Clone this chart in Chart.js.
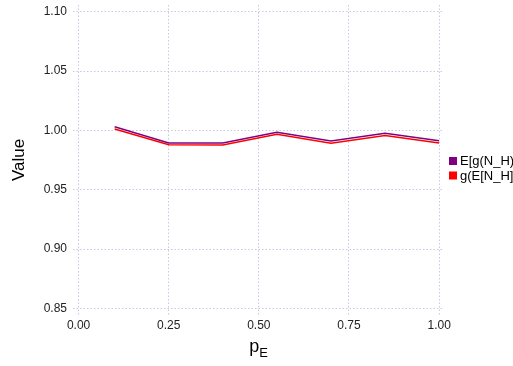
<!DOCTYPE html>
<html>
<head>
<meta charset="utf-8">
<script src="https://cdn.jsdelivr.net/npm/chart.js@4"></script>
<style>
  html, body { margin: 0; padding: 0; background: #fff; overflow: hidden; }
  #wrap { position: relative; width: 513px; height: 366px; }
  #xtitle { position: absolute; left: 0; top: 336px; width: 517px; text-align: center;
    font-family: "Liberation Sans", Arial, sans-serif; font-size: 18px; color: #000; }
  #xtitle sub { font-size: 13px; vertical-align: -5px; }
</style>
</head>
<body>
<div id="wrap">
  <canvas id="chart" width="513" height="366"></canvas>
  <div id="xtitle">p<sub>E</sub></div>
</div>
<script>
const pE = [0.1, 0.25, 0.4, 0.55, 0.7, 0.85, 1.0];
const egNH = [1.0032, 0.9895, 0.9894, 0.9985, 0.9911, 0.9976, 0.9913];
const gENH = [1.0012, 0.9879, 0.9878, 0.9968, 0.9893, 0.9958, 0.9895];
const xTicks = [0, 0.25, 0.5, 0.75, 1.0];
const yTicks = [0.85, 0.90, 0.95, 1.00, 1.05, 1.10];

const labelFont = { family: '"Liberation Sans", Arial, sans-serif', size: 12 };
const gridColor = 'rgba(200,200,228,1)';

// legend drawn by hand so it can sit at the right edge and get clipped like the original
const sideLegend = {
  id: 'sideLegend',
  afterDraw(chart) {
    const ctx = chart.ctx;
    ctx.save();
    ctx.font = '13px "Liberation Sans", Arial, sans-serif';
    ctx.textBaseline = 'middle';
    chart.data.datasets.forEach((ds, i) => {
      const y = 161 + i * 14.5;
      ctx.fillStyle = ds.borderColor;
      ctx.fillRect(449, y - 4, 8, 8);
      ctx.fillStyle = '#000';
      ctx.fillText(ds.label, 460, y + 0.5);
    });
    ctx.restore();
  }
};

new Chart(document.getElementById('chart'), {
  type: 'line',
  data: {
    datasets: [
      { label: 'E[g(N_H)]', data: pE.map((x, i) => ({ x, y: egNH[i] })),
        borderColor: '#800080', backgroundColor: '#800080', borderWidth: 1.5, pointRadius: 0, tension: 0 },
      { label: 'g(E[N_H])', data: pE.map((x, i) => ({ x, y: gENH[i] })),
        borderColor: '#ff0000', backgroundColor: '#ff0000', borderWidth: 1.5, pointRadius: 0, tension: 0 }
    ]
  },
  options: {
    responsive: false,
    animation: false,
    layout: { padding: { left: 0, top: 5, right: 69, bottom: 0 } },
    plugins: { legend: { display: false }, tooltip: { enabled: false } },
    scales: {
      x: {
        type: 'linear', min: -0.0155, max: 1.0135,
        afterBuildTicks: s => { s.ticks = xTicks.map(v => ({ value: v })); },
        afterFit: s => { s.height = 51; s.paddingLeft = 0; s.paddingRight = 0; },
        ticks: { font: labelFont, color: '#222', padding: 3, maxRotation: 0,
          callback: v => v.toFixed(2) },
        grid: { color: gridColor, lineWidth: 1, drawTicks: false },
        border: { display: false, dash: [1.5, 2] }
      },
      y: {
        min: 0.8444, max: 1.1058,
        afterBuildTicks: s => { s.ticks = yTicks.map(v => ({ value: v })); },
        afterFit: s => { s.width = 73; s.paddingTop = 0; s.paddingBottom = 0; },
        ticks: { font: labelFont, color: '#222', padding: 6,
          callback: v => v.toFixed(2) },
        grid: { color: gridColor, lineWidth: 1, drawTicks: false },
        border: { display: false, dash: [1.5, 2] },
        title: { display: true, text: 'Value', color: '#000',
          font: { family: '"Liberation Sans", Arial, sans-serif', size: 17 }, padding: { top: 9, bottom: 0 } }
      }
    }
  },
  plugins: [sideLegend]
});
</script>
</body>
</html>
